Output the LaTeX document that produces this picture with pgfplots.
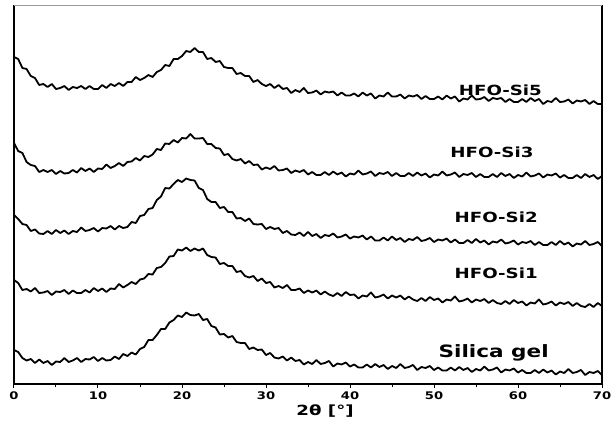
\documentclass[border=0pt]{standalone}
\usepackage{fontspec}
\setmainfont{DejaVu Sans}
\usepackage{pgfplots}
\pgfplotsset{compat=1.18}
\usepackage{pgfplotstable}

% y values are read top-down (pixel-like), axis uses y dir=reverse
% A = HFO-Si5, B = HFO-Si3, C = HFO-Si2, D = HFO-Si1, E = Silica gel
\pgfplotstableread{
x A B C D E
0 57 143 215 280 350
0.5 59 151 219 283 352
1 68 153 224 290 358
1.5 69 162 225 289 360.5
2 76 165 231 291.5 359
2.5 78 166 229.5 288 363
3 85 172 233.5 293 359.5
3.5 84 170 234 292.5 363
4 87 172 231 291 361
4.5 84 170 234 295 365
5 89 174 230 291.5 361.5
5.5 88 171 233 292 362
6 86 173.5 230.5 290 358
6.5 90 173 234 294 362
7 87 170 231 290.5 360.5
7.5 88 172.5 232 293 358
8 86 168 227.5 293 362
8.5 89 171 231 290 359
9 86 168.5 230 292.5 359.5
9.5 89 172 228 288 357
10 89 168.5 231.5 291 361
10.5 85 169 228 288.5 358
11 88 164.5 228.5 292 360.5
11.5 84 168 226 288.5 360
12 86 166 229.5 289 356.5
12.5 83 163 226 284 359
13 86 166 228 287.5 354
13.5 82 162 227 285 356
14 82 161.5 222 282 352.5
14.5 77 158 223 284 354.5
15 80 160.5 216 279.5 349
15.5 78 156 215 278.5 347
16 75 157 209 274 340
16.5 77 154.5 208 274.5 340
17 72 149 200 268 335
17.5 70 150 196.5 267 329
18 65 143.5 188 263 329
18.5 66 144 188.5 256.5 322.5
19 59 140 184 256 320
19.5 59 142.5 180 249.5 315.5
20 56 138 182 250.5 317
20.5 51 138.5 178.5 247.5 312.5
21 52 134 180 251 315
21.5 48 138.5 180.5 248.5 315.5
22 52 138.5 188 250.5 314
22.5 52 138 190 248.5 320
23 59 144 199 255 319
23.5 58 144 202 257 326
24 62 148 202 257.5 327.5
24.5 61 148.5 208 264 334.5
25 67 155 207 263 334
25.5 68 154 212 266 337.5
26 68 159 212 266 336
26.5 74 160.5 218.5 272 342
27 73 159 218 271 343
27.5 76 163.5 221 276 343
28 76 161 218.5 277.5 349
28.5 82 165 224 276 347.5
29 80 164.5 224.5 281 350
29.5 84 169.5 224 278.5 349.5
30 86 167.5 229 283 355
30.5 84 169 227 282 353
31 88 166 229 287.5 357.5
31.5 85 170.5 228 286 358.5
32 89 170 233 288 356.5
32.5 88 168.5 231 285 360.5
33 93 173 234.5 290 357.5
33.5 90 170.5 235 290 361
34 92 172 232.5 288.5 360
34.5 88 170 236 293 364.5
35 93 174.5 232 290.5 362
35.5 92.5 172 236 292.5 364
36 90.5 175 234 290.5 360
36.5 94.5 175 238 294.5 364
37 91.5 172 235 291.5 363
37.5 92.5 175 236 294.5 361
38 91.5 171.5 233.5 296 366.5
38.5 95.5 174.5 237.5 293 363.5
39 92.5 172.5 236.5 296 364.5
39.5 95.5 176.5 234.5 292 362.5
40 95.5 173.5 238.5 295 366.5
40.5 93.5 174.5 236.5 294.5 364.5
41 96.5 170.5 237.5 298.5 367.5
41.5 92.5 174.5 235.5 295.5 367.5
42 95.5 173.5 239.5 296.5 364.5
42.5 93.5 171.5 236.5 292.5 367.5
43 98.5 176 240.5 297.5 364
43.5 95.5 173 240.5 296.5 367
44 96.5 174 237.5 294.5 365
44.5 92.5 172 240.5 298.5 369
45 96.5 176 236.5 295.5 366
45.5 96.5 173 240 297.5 368
46 94.5 176 238 295.5 364
46.5 98.5 176 242 299.5 368
47 95.5 173 239 296.5 367
47.5 96.5 176 240 299.5 365
48 95 172.5 237 301 370
48.5 99 175.5 241 298 367
49 96 173.5 240 301 368
49.5 99 177.5 238 297 366
50 99 174.5 242 300 370
50.5 96.5 175.5 239.5 298.5 367.5
51 99.5 171.5 240.5 302.5 370.5
51.5 95.5 175.5 238.5 299.5 370.5
52 98.5 174.5 242.5 300.5 367.5
52.5 96.5 172.5 239.5 296.5 370.5
53 101.5 177 243 301.5 367
53.5 98.5 174 243 300.5 370
54 99.5 175 240 298.5 368
54.5 95.5 173 243 302.5 372
55 99.5 177 239 299.5 369
55.5 99 174 242.5 301 370.5
56 97 177 240.5 299 366.5
56.5 101 177 244.5 303 370.5
57 98 174 241.5 300 369.5
57.5 99 177 242.5 303 367.5
58 98 173 239.5 304 372.5
58.5 102 176 243.5 301 369.5
59 99 174 242.5 304 370.5
59.5 102 178 240.5 300 368.5
60 102 175 244.5 303 372.5
60.5 99 176.5 242 301.5 370
61 102 172.5 243 305.5 373
61.5 98 176.5 241 302.5 373
62 101 175.5 245 303.5 370
62.5 99 173.5 242 299.5 373
63 104 177.5 245 304.5 369.5
63.5 101 174.5 245 303.5 372.5
64 102 175.5 242 301.5 370.5
64.5 98 173.5 245 305.5 374.5
65 102 177.5 241 302.5 371.5
65.5 101.5 175 244.5 304 373
66 99.5 178 242.5 302 369
66.5 103.5 178 246.5 306 373
67 100.5 175 243.5 303 372
67.5 101.5 178 244.5 306 370
68 100 174 241 307 375
68.5 104 177 245 304 372
69 101 175 244 307 373
69.5 104 179 242 303 371
70 104 176 246 306 375
}\xrd

\begin{document}
\begin{tikzpicture}
\begin{axis}[
  name=ax,
  scale only axis,
  width=588pt,
  height=379pt,
  xmin=0, xmax=70,
  ymin=5, ymax=384,
  y dir=reverse,
  clip=false,
  axis line style={draw=none},
  xtick={0,10,...,70},
  xticklabels={0,10,20,30,40,50,60,70},
  minor xtick={5,15,...,65},
  ytick=\empty,
  xtick pos=bottom,
  tick align=outside,
  major tick length=4pt,
  minor tick length=2.5pt,
  tick style={black, line width=1pt},
  xticklabel style={font=\bfseries\fontsize{10.5}{12}\selectfont, xscale=1.25},
  xlabel={2θ [°]},
  xlabel style={font=\bfseries\fontsize{14}{16}\selectfont, xscale=1.3,
    at={(axis description cs:0.529,0)}, anchor=base, yshift=-31pt},
]
\addplot[black, no marks, line width=1.8pt, line join=round] table[x=x, y=A] {\xrd};
\addplot[black, no marks, line width=1.8pt, line join=round] table[x=x, y=B] {\xrd};
\addplot[black, no marks, line width=1.8pt, line join=round] table[x=x, y=C] {\xrd};
\addplot[black, no marks, line width=1.8pt, line join=round] table[x=x, y=D] {\xrd};
\addplot[black, no marks, line width=1.8pt, line join=round] table[x=x, y=E] {\xrd};

\draw[black, line width=1.8pt] (rel axis cs:0,1) -- (rel axis cs:0,0) -- (rel axis cs:1,0) -- (rel axis cs:1,1);
\draw[gray!80, line width=0.8pt] (rel axis cs:0,1) -- (rel axis cs:1,1);

\begin{scope}[every node/.style={font=\bfseries\fontsize{14}{16}\selectfont, xscale=1.3}]
\node at (axis cs:57.9,90) {HFO-Si5};
\node at (axis cs:56.9,152) {HFO-Si3};
\node at (axis cs:57.4,217) {HFO-Si2};
\node at (axis cs:57.4,273) {HFO-Si1};
\end{scope}
\node[font=\bfseries\fontsize{17}{19}\selectfont, xscale=1.27] at (axis cs:57.1,353) {Silica gel};
\end{axis}
\pgfresetboundingbox
\path[use as bounding box] ([shift={(-14pt,-42pt)}]ax.south west) rectangle ([shift={(14pt,5pt)}]ax.north east);
\end{tikzpicture}
\end{document}
